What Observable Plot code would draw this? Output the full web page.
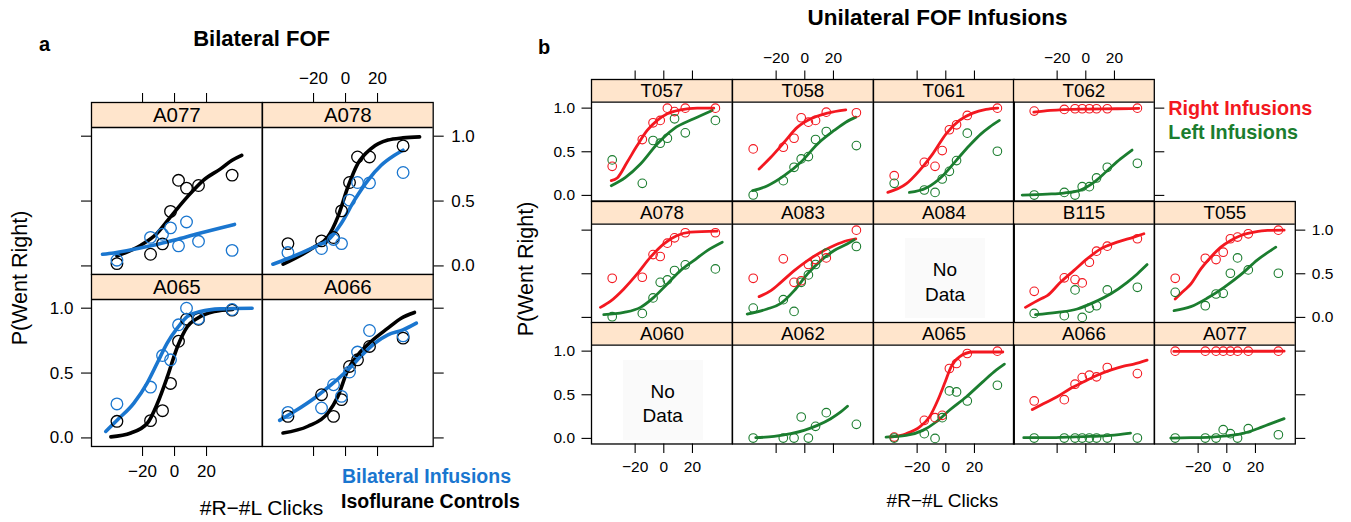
<!DOCTYPE html>
<html><head><meta charset="utf-8">
<script src="https://cdn.jsdelivr.net/npm/d3@7"></script>
<script src="https://cdn.jsdelivr.net/npm/@observablehq/plot@0.6"></script>
<style>
body{margin:0;background:#fff;}
#root{position:relative;width:1351px;height:522px;overflow:hidden;background:#fff;font-family:"Liberation Sans",Arial,Helvetica,sans-serif;color:#000;}
.t{position:absolute;white-space:nowrap;line-height:1;}
.nd{position:absolute;background:#fafafa;}
</style></head><body><div id="root"></div>
<script>
// ---------------- data ----------------
const bins = [-36, -15, -7.5, -2.5, 2.5, 7.5, 15, 36];
const xTicks = [-20, 0, 20];
const yTicks = [0, 0.5, 1];

// Panel a : Bilateral FOF
const aNames = ["A077", "A078", "A065", "A066"];
const aSeries = ["Isoflurane Controls", "Bilateral Infusions"];
const aControlPts = [
  [0.018, 0.09, 0.17, 0.42, 0.66, 0.60, 0.62, 0.70],
  [0.172, 0.193, 0.219, 0.424, 0.643, 0.84, 0.84, 0.925],
  [0.128, 0.133, 0.21, 0.42, 0.745, 0.915, 0.915, 0.985],
  [0.166, 0.333, 0.166, 0.295, 0.551, 0.602, 0.705, 0.769]
];
const aInfusionPts = [
  [0.044, 0.22, 0.244, 0.293, 0.155, 0.339, 0.19, 0.12],
  [0.103, 0.134, 0.204, 0.172, 0.507, 0.643, 0.64, 0.72],
  [0.262, 0.392, 0.635, 0.602, 0.872, 1.0, 0.92, 0.99],
  [0.197, 0.231, 0.41, 0.32, 0.508, 0.662, 0.828, 0.787]
];
const aControlFit = [
  [[-36,0.077],[-21,0.16],[-11,0.25],[-2.5,0.378],[8,0.532],[18,0.66],[29,0.75],[36,0.815],[42,0.853]],
  [[-39,0.013],[-19.3,0.147],[-11,0.224],[-4.8,0.378],[1.5,0.609],[7.75,0.79],[16,0.905],[26.5,0.97],[35.9,0.987],[46.3,0.995]],
  [[-39.8,0.008],[-27.3,0.038],[-16.9,0.115],[-10.6,0.269],[-4.4,0.474],[1.9,0.705],[8.1,0.859],[14.4,0.923],[24.8,0.974],[36.3,0.99]],
  [[-39.1,0.038],[-23.5,0.09],[-11,0.192],[-4.8,0.32],[1.5,0.525],[7.75,0.64],[16,0.743],[26.5,0.846],[34.8,0.923],[43.1,0.967]]
];
const aInfusionFit = [
  [[-45,0.09],[-38,0.10],[-15,0.155],[0,0.20],[15,0.25],[37.5,0.32]],
  [[-45.4,0.013],[-36,0.057],[-19.3,0.147],[-11,0.198],[-2.7,0.327],[5.6,0.507],[14,0.66],[22.3,0.776],[30.6,0.853],[35.9,0.892]],
  [[-43,0.05],[-35.6,0.14],[-25.4,0.269],[-17.1,0.423],[-10.8,0.577],[-4.6,0.73],[1.7,0.846],[7.9,0.935],[16.25,0.974],[28.75,0.995],[48.5,1.0]],
  [[-41.2,0.135],[-31.8,0.205],[-19.3,0.308],[-8.9,0.41],[1.5,0.525],[9.9,0.633],[18.2,0.73],[26.5,0.795],[35.9,0.833],[44.3,0.885]]
];

// Panel b : Unilateral FOF Infusions (row-major, 3 rows x 5 columns, "" = empty slot)
const bNames = ["T057","T058","T061","T062","",
                "A078","A083","A084","B115","T055",
                "A060","A062","A065","A066","A077"];
const bSeries = ["Right Infusions", "Left Infusions"];
const bRightPts = [
  [0.333, 0.64, 0.832, 0.859, 1.0, 0.96, 1.0, 1.0],
  [0.533, 0.552, 0.655, 0.89, 0.839, 0.859, 0.954, 0.947],
  [0.226, 0.379, 0.333, 0.514, 0.752, 0.809, 0.916, 1.0],
  [0.966, 0.985, 0.993, 0.993, 0.993, 0.993, 0.993, 1.0],
  null,
  [0.448, 0.46, 0.72, 0.698, 0.851, 0.912, 0.97, 0.97],
  [0.448, 0.671, 0.402, 0.42, 0.606, 0.663, 0.682, 1.0],
  null,
  [0.299, 0.453, 0.433, 0.395, 0.632, 0.759, 0.816, 0.901],
  [0.448, 0.678, 0.663, 0.747, 0.901, 0.92, 0.958, 1.0],
  null,
  null,
  [0.015, 0.207, 0.238, 0.264, 0.801, 0.858, 0.973, 1.0],
  [0.429, 0.444, 0.621, 0.697, 0.724, 0.705, 0.812, 0.743],
  [1.0, 1.0, 1.0, 1.0, 1.0, 1.0, 1.0, 1.0]
];
const bLeftPts = [
  [0.407, 0.138, 0.629, 0.598, 0.655, 0.878, 0.717, 0.859],
  [0.005, 0.169, 0.322, 0.418, 0.445, 0.64, 0.732, 0.571],
  [0.138, 0.062, 0.034, 0.188, 0.276, 0.399, 0.713, 0.506],
  [0.004, 0.034, 0.004, 0.1, 0.1, 0.2, 0.322, 0.368],
  null,
  [0.008, 0.046, 0.223, 0.402, 0.43, 0.537, 0.602, 0.556],
  [0.107, 0.203, 0.069, 0.402, 0.487, 0.606, 0.736, 0.813],
  null,
  [0.046, 0.02, 0.315, 0.0, 0.107, 0.134, 0.315, 0.345],
  [0.287, 0.134, 0.268, 0.276, 0.506, 0.682, 0.544, 0.506],
  null,
  [0.004, 0.004, 0.004, 0.245, 0.004, 0.138, 0.295, 0.161],
  [0.004, 0.054, 0.0, 0.238, 0.544, 0.532, 0.429, 0.609],
  [0.004, 0.004, 0.004, 0.004, 0.004, 0.004, 0.004, 0.004],
  [0.004, 0.004, 0.004, 0.1, 0.054, 0.004, 0.111, 0.042]
];
const bRightFit = [
  [[-36.7,0.169],[-32.5,0.2],[-25.6,0.38],[-18.6,0.571],[-11.6,0.744],[-4.6,0.859],[2.4,0.935],[11.6,0.98],[23.3,1.0],[34.9,1.0]],
  [[-31.9,0.303],[-23.7,0.437],[-14.4,0.609],[-5.1,0.782],[4.2,0.878],[15.8,0.943],[28.6,0.98]],
  [[-40.5,0.034],[-27.7,0.131],[-18.4,0.284],[-9.1,0.476],[0.2,0.706],[9.5,0.859],[18.8,0.943],[28.1,0.985],[36.3,1.0]],
  [[-36.3,0.954],[-24.7,0.974],[-1.4,0.989],[21.9,0.993],[37,0.997]],
  null,
  [[-44.2,0.115],[-36.7,0.192],[-27.9,0.326],[-18.6,0.498],[-9.3,0.69],[0,0.843],[9.3,0.939],[18.6,0.977],[37.3,0.989]],
  [[-31.9,0.238],[-23.7,0.307],[-16.7,0.402],[-7.4,0.536],[1.9,0.651],[11.2,0.747],[20.5,0.824],[29.8,0.881],[35.6,0.9]],
  null,
  [[-42.1,0.115],[-31.6,0.211],[-26.9,0.249],[-17.7,0.402],[-8.4,0.536],[0.9,0.671],[10.3,0.785],[21.9,0.862],[33.5,0.92],[40.5,0.958]],
  [[-36,0.211],[-29.8,0.307],[-25.1,0.383],[-18.1,0.556],[-11.2,0.69],[-4.2,0.805],[2.8,0.881],[9.8,0.939],[19.1,0.977],[28.4,0.997],[40,1.0]],
  null,
  null,
  [[-38.2,0.015],[-27.7,0.054],[-18.4,0.13],[-11.4,0.245],[-5.6,0.437],[-0.9,0.628],[3.7,0.82],[9.5,0.935],[18.8,0.99],[39.8,0.99]],
  [[-37.4,0.33],[-29.3,0.4],[-20,0.477],[-10.7,0.571],[-1.4,0.648],[8,0.724],[17.2,0.782],[26.5,0.828],[33.5,0.851],[42.8,0.897]],
  [[-37,0.997],[0,0.998],[40,0.999]]
];
const bLeftFit = [
  [[-36.7,0.111],[-26.7,0.207],[-16.3,0.36],[-4.6,0.59],[7,0.763],[20.9,0.878],[33.8,0.974]],
  [[-36.4,0.054],[-26,0.111],[-14.4,0.226],[-2.8,0.38],[8.9,0.59],[20.5,0.744],[28.6,0.839],[35.6,0.897]],
  [[-25.4,0.034],[-13.7,0.084],[-2.1,0.226],[7.2,0.399],[16.5,0.571],[24.6,0.705],[30.5,0.782],[37.4,0.859]],
  [[-44.4,0.004],[-27,0.015],[-15.4,0.027],[-3.7,0.061],[5.6,0.149],[14.9,0.283],[24.2,0.418],[32.3,0.52]],
  null,
  [[-41.9,0.031],[-27.9,0.057],[-16.3,0.115],[-7,0.23],[2.4,0.383],[11.6,0.536],[20.9,0.651],[30.3,0.766],[40.8,0.862]],
  [[-40.2,0.038],[-26.3,0.096],[-16.7,0.161],[-7.4,0.307],[1.9,0.498],[11.2,0.651],[20.5,0.766],[29.8,0.843],[34.4,0.889]],
  null,
  [[-35.1,0.031],[-20,0.057],[-6,0.096],[5.6,0.172],[17.2,0.268],[28.9,0.402],[35.9,0.498],[42.8,0.605]],
  [[-36.8,0.077],[-25.1,0.123],[-13.5,0.222],[-1.9,0.345],[9.8,0.49],[21.4,0.659],[34.2,0.805]],
  null,
  [[-34.2,0.008],[-21.4,0.023],[-9.8,0.054],[-0.5,0.092],[8.8,0.149],[18.1,0.226],[25.1,0.303],[29.8,0.368]],
  [[-41.7,0.015],[-27.7,0.034],[-16,0.092],[-6.8,0.188],[2.5,0.322],[14.2,0.475],[25.8,0.648],[35.1,0.782],[40.9,0.851]],
  [[-43.3,0.008],[-27,0.008],[-13,0.015],[3.3,0.023],[17.2,0.034],[31.2,0.061]],
  [[-39.1,0.004],[-25.1,0.008],[-11.2,0.015],[2.8,0.034],[12.1,0.061],[21.4,0.111],[30.7,0.169],[40,0.226]]
];

// ---------------- layout / style ----------------
const aColors = ["#000000", "#1a76cf"];
const bColors = ["#f31820", "#1b7d2f"];
const stripFill = "#ffe5cc";
const root = document.getElementById("root");
const FONT = '"Liberation Sans", Arial, Helvetica, sans-serif';
const fmtX = d => d < 0 ? "\u2212" + Math.abs(d) : String(d);
const fmtY = d => d.toFixed(1);
const blank = () => "";

function drawPanel(c) {
  const m = 60;
  const ppu = c.panelH / (c.yDom[1] - c.yDom[0]);
  const yExt = c.yDom[1] + c.stripH / ppu;
  const marks = [
    Plot.rect([c.label], {x1: c.xDom[0], x2: c.xDom[1], y1: c.yDom[1], y2: yExt, fill: stripFill}),
    Plot.ruleY([c.yDom[1]], {stroke: "black", strokeWidth: 1.3}),
    Plot.text([c.label], {frameAnchor: "top", lineAnchor: "middle", dy: c.stripH / 2 + 0.5, text: d => d, fontSize: c.stripFont, fill: "black"})
  ];
  if (c.lines.length) marks.push(Plot.line(c.lines, {x: "x", y: "y", z: "s", stroke: "s", strokeWidth: c.lineW, curve: "monotone-x"}));
  if (c.dots.length) marks.push(Plot.dot(c.dots, {x: "x", y: "y", stroke: "s", r: c.r, strokeWidth: c.dotW, fill: "none"}));
  marks.push(Plot.frame({stroke: "black", strokeWidth: 1.3}));
  const ax = c.axes, o = {tickSize: c.tick, tickPadding: c.pad, fontSize: c.tickFont, label: null, strokeWidth: 1.1};
  if (ax.top) marks.push(Plot.axisX({...o, anchor: "top", ticks: xTicks, tickFormat: ax.top === 2 ? fmtX : blank}));
  if (ax.bottom) marks.push(Plot.axisX({...o, anchor: "bottom", ticks: xTicks, tickFormat: ax.bottom === 2 ? fmtX : blank}));
  if (ax.left) marks.push(Plot.axisY({...o, anchor: "left", ticks: yTicks, tickFormat: ax.left === 2 ? fmtY : blank}));
  if (ax.right) marks.push(Plot.axisY({...o, anchor: "right", ticks: yTicks, tickFormat: ax.right === 2 ? fmtY : blank}));
  const svg = Plot.plot({
    width: c.w + 2 * m, height: c.stripH + c.panelH + 2 * m,
    marginLeft: m, marginRight: m, marginTop: m, marginBottom: m,
    x: {domain: c.xDom, axis: null},
    y: {domain: [c.yDom[0], yExt], axis: null},
    color: {domain: c.colorDomain, range: c.colorRange},
    style: {background: "transparent", overflow: "visible", fontFamily: FONT, color: "black"},
    marks
  });
  svg.style.position = "absolute";
  svg.style.left = (c.left - m) + "px";
  svg.style.top = (c.top - m) + "px";
  svg.style.maxWidth = "none";
  root.appendChild(svg);
}

function pts(vals, s) { return vals ? vals.map((y, i) => ({x: bins[i], y, s})) : []; }
function fit(arr, s) { return arr ? arr.map(([x, y]) => ({x, y, s})) : []; }

// ---- figure a ----
const aLeft = [91, 261.7], aTop = [102.3, 274.3];
const aAxes = [
  {top: 1, left: 1}, {top: 2, right: 2},
  {bottom: 2, left: 2}, {bottom: 1, right: 1}
];
aNames.forEach((name, i) => {
  const col = i % 2, row = Math.floor(i / 2);
  drawPanel({
    left: aLeft[col], top: aTop[row], w: 170.7, stripH: 25, panelH: 147,
    xDom: [-51.9, 54.8], yDom: [-0.066, 1.067], label: name,
    lines: [...fit(aControlFit[i], aSeries[0]), ...fit(aInfusionFit[i], aSeries[1])],
    dots: [...pts(aControlPts[i], aSeries[0]), ...pts(aInfusionPts[i], aSeries[1])],
    colorDomain: aSeries, colorRange: aColors,
    axes: aAxes[i], tick: 10, pad: 8, tickFont: 17, stripFont: 20.5,
    r: 5.8, dotW: 1.3, lineW: 3.6
  });
});

// ---- figure b ----
const bLeft = [591, 731.8, 872.6, 1013.4, 1154.2], bTop = [79, 200.5, 322.1];
const bAxes = [
  {top: 1, left: 2}, {top: 2}, {top: 1}, {top: 2, right: 1}, null,
  {left: 1}, {}, {}, {}, {right: 2},
  {left: 2, bottom: 2}, {bottom: 1}, {bottom: 2}, {bottom: 1}, {bottom: 2, right: 1}
];
bNames.forEach((name, i) => {
  if (!name) return;
  const col = i % 5, row = Math.floor(i / 5);
  drawPanel({
    left: bLeft[col], top: bTop[row], w: 140.8, stripH: 22.7, panelH: 98.8,
    xDom: [-50.45, 47.8], yDom: [-0.064, 1.068], label: name,
    lines: [...fit(bRightFit[i], bSeries[0]), ...fit(bLeftFit[i], bSeries[1])],
    dots: [...pts(bRightPts[i], bSeries[0]), ...pts(bLeftPts[i], bSeries[1])],
    colorDomain: bSeries, colorRange: bColors,
    axes: bAxes[i], tick: 9.5, pad: 7, tickFont: 15.5, stripFont: 18.8,
    r: 4.3, dotW: 1.1, lineW: 2.8
  });
});

// ---------------- text ----------------
function txt(s, o) {
  const d = document.createElement("div");
  d.className = "t";
  d.textContent = s;
  d.style.fontSize = o.size + "px";
  if (o.bold) d.style.fontWeight = "bold";
  if (o.color) d.style.color = o.color;
  d.style.left = o.x + "px";
  d.style.top = o.y + "px";
  let tr = o.align === "left" ? "translate(0,-50%)" : "translate(-50%,-50%)";
  if (o.rot) tr += " rotate(-90deg)";
  d.style.transform = tr;
  root.appendChild(d);
}
function noData(cx, cy, w, h, y1, y2) {
  const b = document.createElement("div");
  b.className = "nd";
  b.style.left = (cx - w / 2) + "px"; b.style.top = (cy - h / 2) + "px";
  b.style.width = w + "px"; b.style.height = h + "px";
  root.appendChild(b);
  txt("No", {x: cx, y: y1, size: 19});
  txt("Data", {x: cx, y: y2, size: 19});
}
noData(945, 278, 80, 80, 268.5, 293.5);
noData(662.7, 400, 80, 80, 390.7, 415.2);

txt("a", {x: 39, y: 43.5, size: 20, bold: true, align: "left"});
txt("Bilateral FOF", {x: 261.6, y: 38.5, size: 22, bold: true});
txt("P(Went Right)", {x: 20.7, y: 278, size: 21.5, rot: true});
txt("#R\u2212#L Clicks", {x: 261.5, y: 506.5, size: 21});
txt(aSeries[1], {x: 342, y: 477.3, size: 19.5, bold: true, color: aColors[1], align: "left"});
txt(aSeries[0], {x: 341, y: 501.7, size: 19.5, bold: true, color: aColors[0], align: "left"});

txt("b", {x: 538, y: 47, size: 20, bold: true, align: "left"});
txt("Unilateral FOF Infusions", {x: 937.5, y: 17.5, size: 22.5, bold: true});
txt("P(Went Right)", {x: 527, y: 269, size: 21.5, rot: true});
txt("#R\u2212#L Clicks", {x: 942.5, y: 500, size: 19});
txt(bSeries[0], {x: 1168.3, y: 109, size: 19.8, bold: true, color: bColors[0], align: "left"});
txt(bSeries[1], {x: 1168.3, y: 133.3, size: 19.8, bold: true, color: bColors[1], align: "left"});
</script></body></html>
